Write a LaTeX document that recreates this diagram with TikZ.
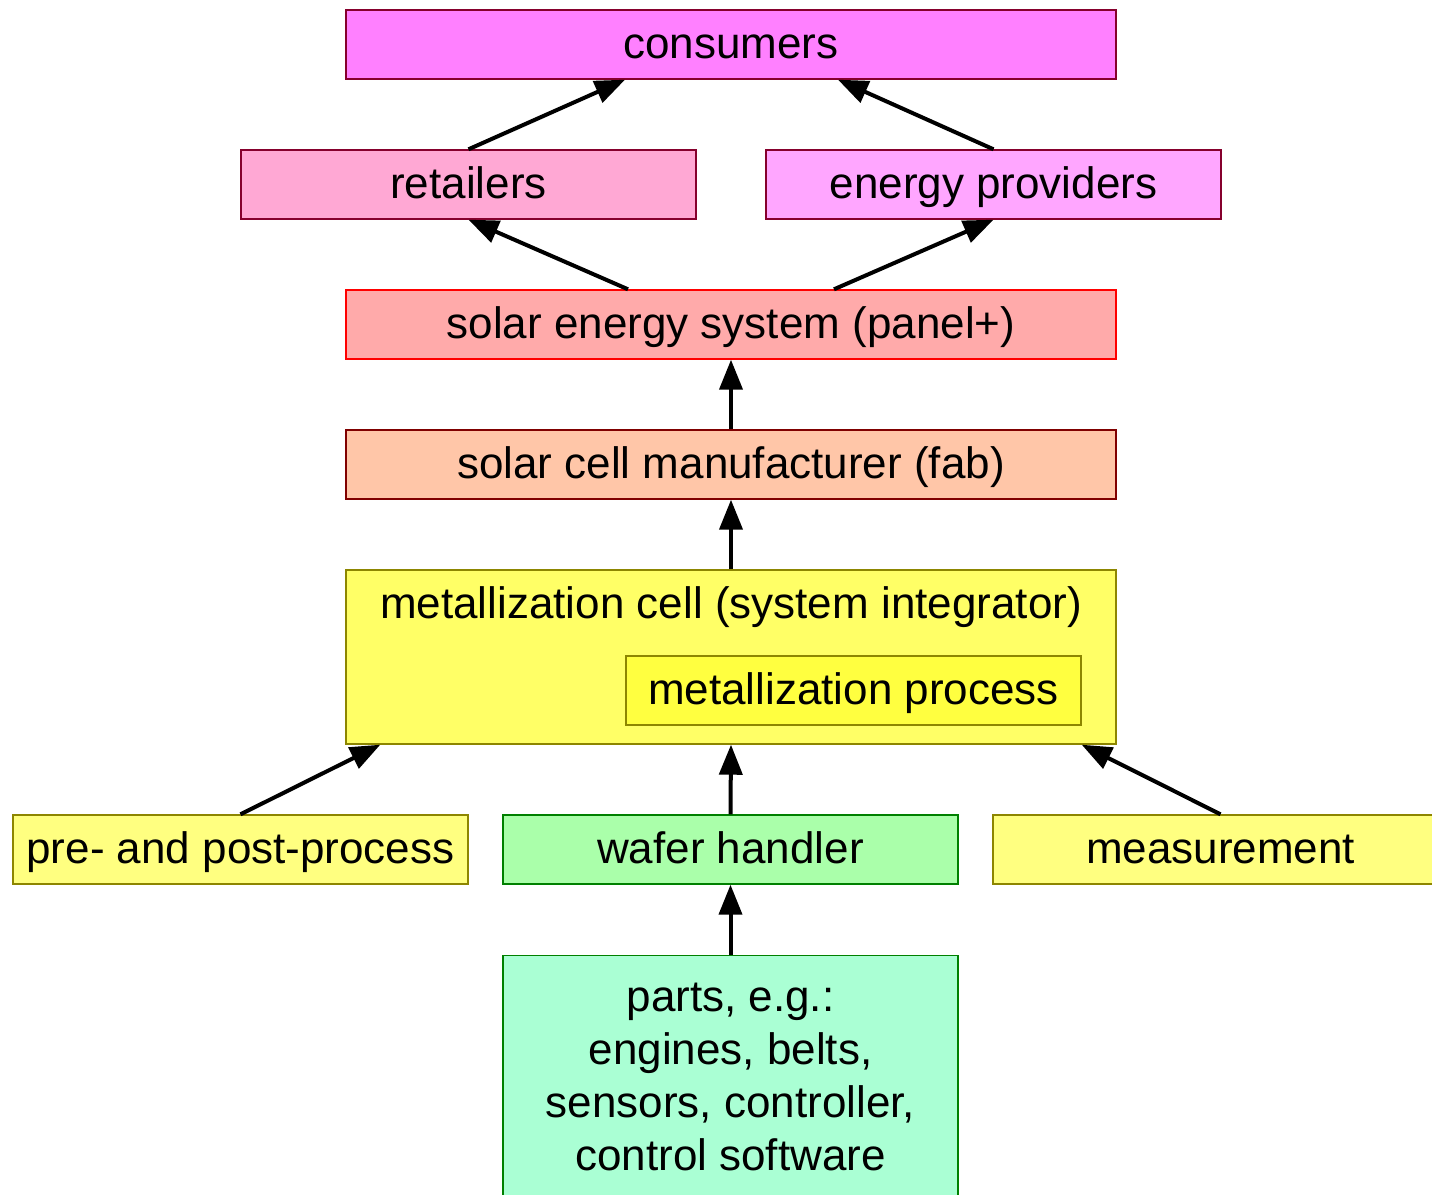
\documentclass[tikz,border=0pt]{standalone}
\usepackage{fontspec}
\setmainfont{Liberation Sans}
\usepackage{xcolor}
\usetikzlibrary{arrows.meta}

\definecolor{consfill}{HTML}{FF80FF}
\definecolor{retfill}{HTML}{FFA8D4}
\definecolor{provfill}{HTML}{FFA6FF}
\definecolor{sysfill}{HTML}{FFAAAA}
\definecolor{fabfill}{HTML}{FFC6A8}
\definecolor{cellfill}{HTML}{FFFF66}
\definecolor{procfill}{HTML}{FFFF40}
\definecolor{prefill}{HTML}{FFFF80}
\definecolor{waferfill}{HTML}{AAFFAA}
\definecolor{partsfill}{HTML}{AAFFD4}

\begin{document}
\begin{tikzpicture}[x=0.5pt,y=-0.5pt,
base/.style={draw,line width=0.7pt,inner sep=0pt,font=\fontsize{22}{26.4}\selectfont},
oneline/.style={text height=17.5pt,text depth=3.75pt},
box/.style={base,oneline,minimum width=227.5pt,minimum height=34.5pt},
wide/.style={box,minimum width=385pt},
arr/.style={-{Triangle[length=15pt,width=11.5pt]},line width=2pt}]
\useasboundingbox (0,0) rectangle (1432,1195);

    % top levels
    \node[wide,fill=consfill,draw=purple!70!black] (Consumers) at (731,44.5) {consumers};
    \node[box,fill=retfill,draw=purple!70!black] (Retailers) at (468.5,184.5) {retailers};
    \node[box,fill=provfill,draw=purple!70!black] (Providers) at (993.5,184.5) {energy providers};
    \node[wide,fill=sysfill,draw=red] (System) at (731,324.5) {solar energy system (panel+)};
    \node[wide,fill=fabfill,draw=red!50!black] (Fab) at (731,464.5) {solar cell manufacturer (fab)};

    % metallization cell with process inside
    \node[wide,fill=cellfill,draw=olive,minimum height=87pt] (Cell) at (731,657) {};
    \node[oneline,font=\fontsize{22}{26.4}\selectfont,inner sep=0pt] (CellTitle)
        at ([yshift=-17.5pt]Cell.north) {metallization cell (system integrator)};
    \node[box,fill=procfill,draw=olive] (Process) at (853.5,690.5) {metallization process};

    % bottom levels
    \node[box,fill=prefill,draw=olive] (Pre) at (240.5,849.5) {pre- and post-process};
    \node[box,fill=waferfill,draw=green!50!black] (Wafer) at (730.5,849.5) {wafer handler};
    \node[box,fill=prefill,draw=olive] (Measure) at (1220.5,849.5) {measurement};
    \node[base,fill=partsfill,draw=green!50!black,minimum width=227.5pt,anchor=north,
        inner ysep=13.75pt,align=center]
        (Parts) at (730.5,955) {parts, e.g.:\\engines, belts,\\sensors, controller,\\control software};

    % arrows
    \draw[arr] (Retailers.north) -- ([xshift=-53pt]Consumers.south);
    \draw[arr] (Providers.north) -- ([xshift=53.5pt]Consumers.south);
    \draw[arr] ([xshift=-51.5pt]System.north) -- (Retailers.south);
    \draw[arr] ([xshift=51.5pt]System.north) -- (Providers.south);
    \draw[arr] (Fab) -- (System);
    \draw[arr] (Cell.north) -- (Fab.south);
    \draw[arr] (Pre.north) -- ([xshift=17.5pt]Cell.south west);
    \draw[arr] (Wafer.north) -- (Cell.south);
    \draw[arr] (Measure.north) -- ([xshift=-17.5pt]Cell.south east);
    \draw[arr] (Parts.north) -- (Wafer.south);

\end{tikzpicture}
\end{document}
